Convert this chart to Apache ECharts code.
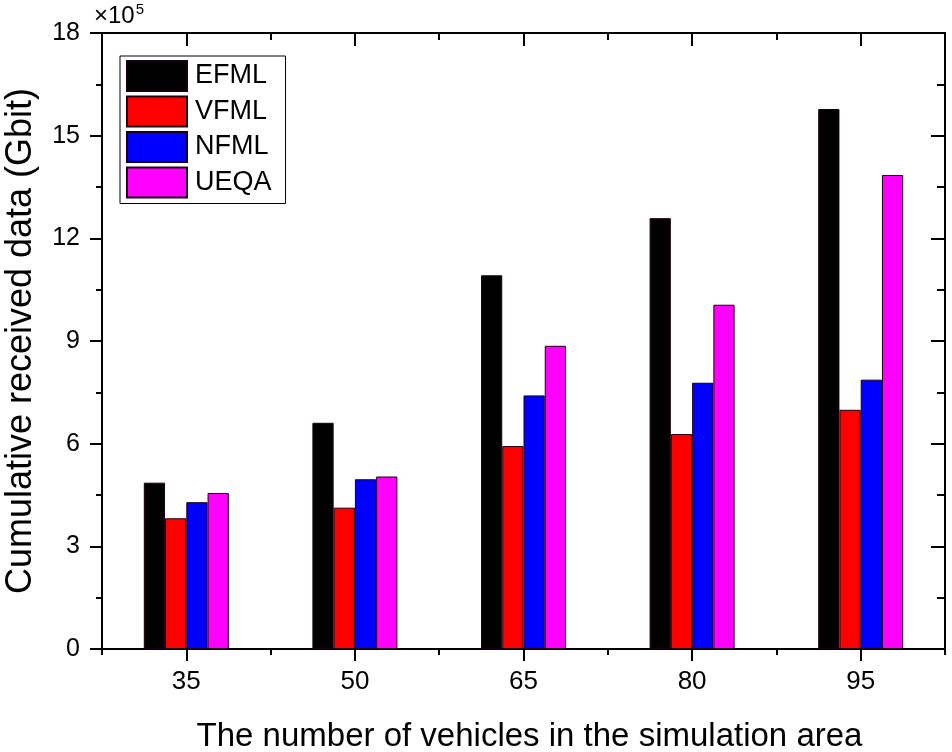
<!DOCTYPE html>
<html>
<head>
<meta charset="utf-8">
<script src="https://cdn.jsdelivr.net/npm/echarts@6/dist/echarts.min.js"></script>
<style>
html,body{margin:0;padding:0;background:#fff;}
#chart{width:952px;height:752px;}
</style>
</head>
<body>
<div id="chart"></div>
<script>
var categories = ['35', '50', '65', '80', '95'];
var seriesNames = ['EFML', 'VFML', 'NFML', 'UEQA'];
var EFML = [4.86, 6.61, 10.92, 12.59, 15.78];
var VFML = [3.82, 4.13, 5.93, 6.28, 6.99];
var NFML = [4.29, 4.96, 7.41, 7.78, 7.87];
var UEQA = [4.56, 5.04, 8.86, 10.06, 13.85];
var colors = ['#000000', '#ff0000', '#0000ff', '#ff00ff'];
var yTicks = { min: 0, max: 18, interval: 3 };

var FONT = '"Liberation Sans", Arial, Helvetica, sans-serif';
var chart = echarts.init(document.getElementById('chart'));
var values = [EFML, VFML, NFML, UEQA];

var lineStyle = { color: '#000', width: 2 };

var option = {
  backgroundColor: '#fff',
  animation: false,
  textStyle: { fontFamily: FONT },
  grid: { left: 102, right: 7, top: 33, bottom: 103, containLabel: false, outerBoundsMode: 'none' },
  legend: {
    orient: 'vertical',
    left: 120,
    top: 56,
    itemWidth: 60,
    itemHeight: 30,
    itemGap: 3.5,
    padding: [4, 14, 5, 6],
    borderColor: '#000',
    borderWidth: 1,
    icon: 'rect',
    textStyle: { fontSize: 27, color: '#000', fontFamily: FONT, padding: [0, 0, 0, 3] },
    data: seriesNames
  },
  xAxis: [
    {
      type: 'category', position: 'bottom', data: categories, boundaryGap: true,
      axisLine: { show: true, lineStyle: lineStyle },
      axisTick: { show: true, alignWithLabel: true, inside: false, length: 12, interval: 0, lineStyle: lineStyle },
      axisLabel: { fontSize: 26, color: '#000', margin: 20, fontFamily: FONT, interval: 0 },
      name: 'The number of vehicles in the simulation area',
      nameLocation: 'middle', nameGap: 71,
      nameTextStyle: { fontSize: 33, color: '#000', fontFamily: FONT, padding: [0, 0, 0, 12] },
      splitLine: { show: false }
    },
    {
      type: 'category', position: 'bottom', data: categories, boundaryGap: true,
      axisLine: { show: false },
      axisTick: { show: true, alignWithLabel: false, inside: false, length: 6, interval: 0, lineStyle: lineStyle },
      axisLabel: { show: false },
      splitLine: { show: false }
    },
    {
      type: 'category', position: 'top', data: categories, boundaryGap: true,
      axisLine: { show: true, lineStyle: lineStyle },
      axisTick: { show: true, alignWithLabel: true, inside: true, length: 13, interval: 0, lineStyle: lineStyle },
      axisLabel: { show: false },
      splitLine: { show: false }
    },
    {
      type: 'category', position: 'top', data: categories, boundaryGap: true,
      axisLine: { show: false },
      axisTick: { show: true, alignWithLabel: false, inside: true, length: 7, interval: 0, lineStyle: lineStyle },
      axisLabel: { show: false },
      splitLine: { show: false }
    }
  ],
  yAxis: [
    {
      type: 'value', position: 'left', min: yTicks.min, max: yTicks.max, interval: yTicks.interval,
      axisLine: { show: true, lineStyle: lineStyle },
      axisTick: { show: true, inside: false, length: 12, lineStyle: lineStyle },
      minorTick: { show: true, splitNumber: 2, length: 6, lineStyle: lineStyle },
      axisLabel: { fontSize: 25, color: '#000', margin: 22, fontFamily: FONT },
      splitLine: { show: false },
      name: 'Cumulative received data (Gbit)',
      nameLocation: 'middle', nameGap: 63,
      nameTextStyle: { fontSize: 36, color: '#000', fontFamily: FONT }
    },
    {
      type: 'value', position: 'right', min: yTicks.min, max: yTicks.max, interval: yTicks.interval,
      axisLine: { show: true, lineStyle: lineStyle },
      axisTick: { show: true, inside: true, length: 14, lineStyle: lineStyle },
      minorTick: { show: true, splitNumber: 2, length: 8, lineStyle: lineStyle },
      axisLabel: { show: false },
      splitLine: { show: false }
    }
  ],
  graphic: [
    {
      type: 'text', left: 94, top: 2,
      style: {
        text: '{a|×10}{b|5}',
        rich: {
          a: { fontSize: 24, fill: '#000', fontFamily: FONT, verticalAlign: 'bottom', lineHeight: 26 },
          b: { fontSize: 15, fill: '#000', fontFamily: FONT, verticalAlign: 'top', lineHeight: 26, padding: [0, 0, 12, 1] }
        }
      }
    }
  ],
  series: seriesNames.map(function (n, i) {
    return {
      name: n, type: 'bar', xAxisIndex: 0, yAxisIndex: 0,
      data: values[i],
      barWidth: 21.25,
      barGap: '0%',
      itemStyle: { color: colors[i], borderColor: '#1a0010', borderWidth: 1 }
    };
  })
};
chart.setOption(option);
</script>
</body>
</html>
